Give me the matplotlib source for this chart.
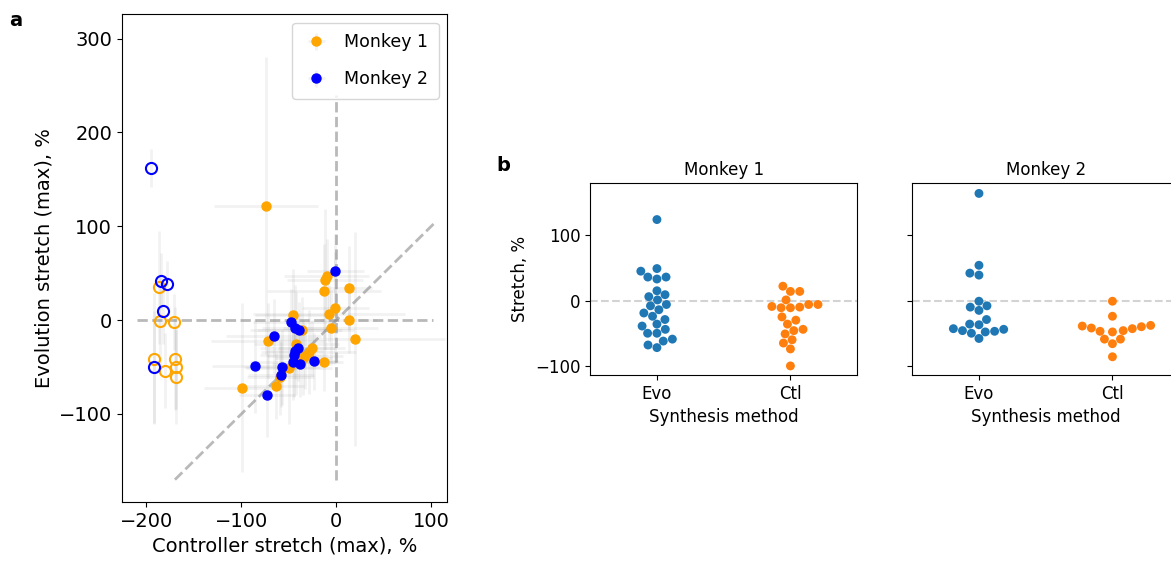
import numpy as np
import pandas as pd
import matplotlib
matplotlib.use("Agg")
import matplotlib.pyplot as plt
import seaborn as sns

# panel a: monkey 1, both stretches measured
m1_x = [-10, -12, -13, 13, -1, -8, -6, 13, 20, -46, -36, -72, -42, -26, -29, -33, -35, -13, -50, -59, -64, -99, -74]
m1_y = [47, 43, 31, 34, 13, 7, -8, 0, -20, 5, -10, -22, -25, -30, -34, -38, -40, -45, -51, -61, -70, -72, 122]
m1_xerr = [45, 40, 60, 25, 35, 80, 50, 30, 95, 40, 55, 60, 45, 35, 50, 40, 30, 20, 45, 35, 30, 40, 55]
m1_yerr = [40, 75, 50, 45, 60, 30, 40, 35, 114, 50, 35, 40, 55, 30, 45, 35, 40, 30, 60, 40, 35, 90, 158]
# monkey 1, controller undefined (open circles on the left)
m1o_x = [-187, -186, -171, -192, -170, -180, -169, -169]
m1o_y = [35, -1, -2, -41, -41, -54, -50, -61]
m1o_yerr = [60, 50, 30, 70, 55, 40, 45, 50]

# monkey 2
m2_x = [-1, -48, -43, -39, -66, -40, -44, -45, -46, -38, -23, -57, -58, -86, -73]
m2_y = [52, -2, -8, -11, -17, -30, -33, -37, -45, -47, -44, -50, -58, -49, -80]
m2_xerr = [30, 40, 35, 45, 50, 40, 30, 35, 45, 30, 25, 40, 35, 45, 30]
m2_yerr = [40, 35, 45, 30, 40, 35, 30, 45, 40, 35, 30, 40, 35, 50, 45]
m2o_x = [-195, -185, -178, -183, -192]
m2o_y = [162, 42, 38, 10, -50]
m2o_yerr = [20, 30, 25, 35, 60]

# panel b: swarm values
m1_evo = [124, 49, 45, 36, 33, 36, 15, 6, 9, 1, -6, -8, -14, -19, -24, -29, -36, -39, -44,
          -50, -50, -59, -62, -68, -72]
m1_ctl = [22, 14, 14, 1, -6, -9, -11, -11, -10, -6, -25, -30, -36, -44, -46, -51, -60, -65, -74, -100]
m2_evo = [164, 54, 42, 39, -1, -10, -8, -15, -29, -36, -37, -43, -46, -50, -58, -48, -47, -44]
m2_ctl = [-1, -24, -38, -40, -43, -47, -48, -46, -42, -39, -59, -59, -66, -86]
methods = ["Evo", "Ctl"]

fig = plt.figure(figsize=(11.71, 5.7), dpi=100)

# ---- panel a ----
ax = fig.add_axes([0.104, 0.119, 0.278, 0.856])
h1 = ax.errorbar(m1_x, m1_y, xerr=m1_xerr, yerr=m1_yerr, fmt="o", color="orange",
                 markersize=6.5, label="Monkey 1", ecolor="gray", elinewidth=2)
h2 = ax.errorbar(m2_x, m2_y, xerr=m2_xerr, yerr=m2_yerr, fmt="o", color="blue",
                 markersize=6.5, label="Monkey 2", ecolor="gray", elinewidth=2)
h3 = ax.errorbar(m1o_x, m1o_y, yerr=m1o_yerr, fmt="o", mfc="none", mec="orange", mew=1.5,
                 markersize=8, ecolor="gray", elinewidth=2)
h4 = ax.errorbar(m2o_x, m2o_y, yerr=m2o_yerr, fmt="o", mfc="none", mec="blue", mew=1.5,
                 markersize=8, ecolor="gray", elinewidth=2)
for h in (h1, h2, h3, h4):
    for c in h[2]:
        c.set_alpha(0.1)

ax.plot([-170, 105], [-170, 105], "--", color="gray", alpha=0.55, lw=2, zorder=0)
ax.plot([0, 0], [-170, 240], "--", color="gray", alpha=0.55, lw=2, zorder=0)
ax.plot([-210, 102], [0, 0], "--", color="gray", alpha=0.55, lw=2, zorder=0)

ax.set_xlim(-226, 117)
ax.set_ylim(-194, 326)
ax.set_xticks([-200, -100, 0, 100])
ax.set_yticks([-100, 0, 100, 200, 300])
ax.tick_params(labelsize=14)
ax.set_xlabel("Controller stretch (max), %", fontsize=14)
ax.set_ylabel("Evolution stretch (max), %", fontsize=14)
ax.legend(handles=[h1, h2], loc="upper right", fontsize=12.5, labelspacing=1.1,
          borderpad=0.6, handlelength=1.6)
fig.text(0.008, 0.955, "a", fontsize=14, fontweight="bold")

# ---- panel b ----
palette = ["tab:blue", "tab:orange"]
axb1 = fig.add_axes([0.504, 0.342, 0.228, 0.337])
axb2 = fig.add_axes([0.779, 0.342, 0.228, 0.337], sharey=axb1)
for axb, evo, ctl, title in [(axb1, m1_evo, m1_ctl, "Monkey 1"), (axb2, m2_evo, m2_ctl, "Monkey 2")]:
    df = pd.DataFrame({"method": [methods[0]] * len(evo) + [methods[1]] * len(ctl),
                       "stretch": evo + ctl})
    axb.axhline(0, ls="--", color="lightgray", lw=1.5, zorder=0)
    sns.swarmplot(data=df, x="method", y="stretch", hue="method", palette=palette,
                  size=6.4, ax=axb, legend=False)
    axb.set_xlim(-0.5, 1.5)
    axb.set_title(title, fontsize=12)
    axb.set_xlabel("Synthesis method", fontsize=12)
    axb.tick_params(labelsize=12)
axb1.set_ylim(-114, 180)
axb1.set_yticks([-100, 0, 100])
axb1.set_ylabel("Stretch, %", fontsize=12)
axb2.set_ylabel("")
axb2.tick_params(labelleft=False)
fig.text(0.424, 0.7, "b", fontsize=14, fontweight="bold")

fig.savefig("out.png", dpi=100)
